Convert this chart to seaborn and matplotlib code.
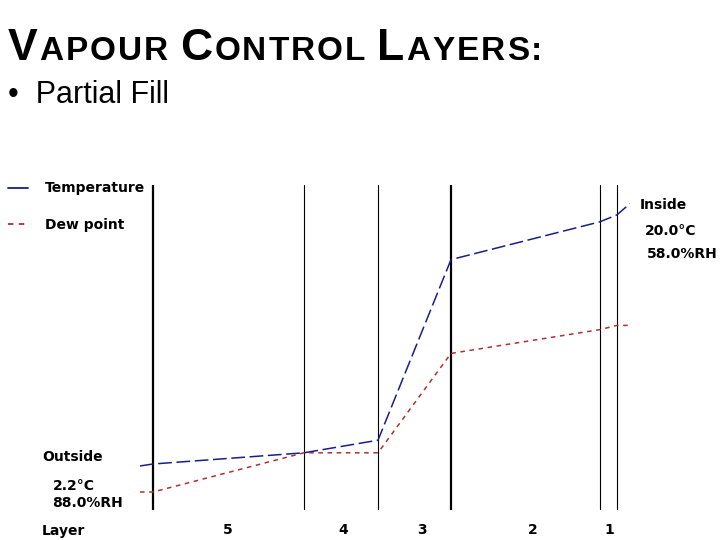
import matplotlib
matplotlib.use("Agg")
import matplotlib.pyplot as plt
from matplotlib.lines import Line2D
import numpy as np
import pandas as pd
import seaborn as sns

# profile through the wall (outside -> inside), x = position, y = degrees C
position = [-13, 0, 151, 225, 298, 447, 464, 477]
temperature = [2.06, 2.2, 3.0, 3.9, 16.8, 19.5, 20.0, 20.8]
dew_point = [0.2, 0.2, 3.0, 3.0, 10.1, 11.8, 12.1, 12.1]

# layer boundaries and names
boundaries = [0, 151, 225, 298, 447, 464]
layer_names = ["5", "4", "3", "2", "1"]

outside_text = ["Outside", "2.2°C", "88.0%RH"]
inside_text = ["Inside", "20.0°C", "58.0%RH"]

BLUE = "#1c1c8a"
RED = "#b03030"

sns.set_style("white")
plt.rcParams["font.family"] = ["DejaVu Sans"]
plt.rcParams["text.color"] = "black"

W, H = 720, 540
fig = plt.figure(figsize=(7.2, 5.4), dpi=100)


def fx(px):
    return px / W


def fy(py):
    return 1 - py / H


ax = fig.add_axes([fx(140), fy(510), 490 / W, 325 / H])

df = pd.DataFrame({"pos": position, "Temperature": temperature, "Dew point": dew_point})
sns.lineplot(data=df, x="pos", y="Temperature", ax=ax, color=BLUE, lw=1.1,
             dashes=False, sort=False)
ax.lines[-1].set_dashes((9, 3))
sns.lineplot(data=df, x="pos", y="Dew point", ax=ax, color=RED, lw=1.1, sort=False)
ax.lines[-1].set_dashes((3, 3))

ax.set_xlim(-13, 477)
ax.set_ylim(2.2 - 46 / 14, 2.2 + 279 / 14)
widths = [1.6, 0.8, 0.8, 1.6, 0.8, 0.8]
for b, w in zip(boundaries, widths):
    ax.axvline(b, color="black", lw=w, zorder=0)
ax.set_axis_off()

# layer numbers under the wall
mids = [(a + b) / 2 for a, b in zip(boundaries[:-1], boundaries[1:])]
nudge = [-1, 2, 7, 7, 1]
lab_font = dict(fontsize=10, fontweight="bold")
for m, n, name in zip(mids, nudge, layer_names):
    ax.text(m + n, -0.062, name, transform=ax.get_xaxis_transform(), ha="center",
            va="center", **lab_font)
fig.text(fx(42), fy(531), "Layer", ha="left", va="center", **lab_font)

# outside / inside conditions
fig.text(fx(42), fy(457), outside_text[0], ha="left", va="center", **lab_font)
fig.text(fx(53), fy(486), outside_text[1], ha="left", va="center", **lab_font)
fig.text(fx(52), fy(503), outside_text[2], ha="left", va="center", **lab_font)
fig.text(fx(640), fy(205), inside_text[0], ha="left", va="center", **lab_font)
fig.text(fx(645), fy(231), inside_text[1], ha="left", va="center", **lab_font)
fig.text(fx(647), fy(254), inside_text[2], ha="left", va="center", **lab_font)

# legend
handles = [Line2D([], [], color=BLUE, lw=1.3),
           Line2D([], [], color=RED, lw=1.3, ls=(0, (3, 3)))]
fig.legend(handles, ["Temperature", "Dew point"], loc="upper left",
           bbox_to_anchor=(fx(-5), fy(169)), frameon=False, handlelength=1.5,
           handletextpad=1.2, labelspacing=1.6, prop=dict(size=10, weight="bold"))

# title in small caps, drawn letter by letter with a little extra tracking
renderer = fig.canvas.get_renderer()
title_parts = [("V", 32), ("APOUR ", 24), ("C", 32), ("ONTROL ", 24),
               ("L", 32), ("AYERS:", 24)]
x = fx(8)
for txt, size in title_parts:
    for ch in txt:
        if ch == " ":
            x += 10 / W
            continue
        t = fig.text(x, fy(60), ch, fontsize=size, family="Liberation Sans",
                     fontweight="bold", ha="left", va="baseline")
        bb = t.get_window_extent(renderer)
        x += (bb.width + 2) / W

fig.text(fx(8), fy(103), "\u2022  Partial Fill", fontsize=22,
         family="Liberation Sans", ha="left", va="baseline")

fig.savefig("out.png", dpi=100)
